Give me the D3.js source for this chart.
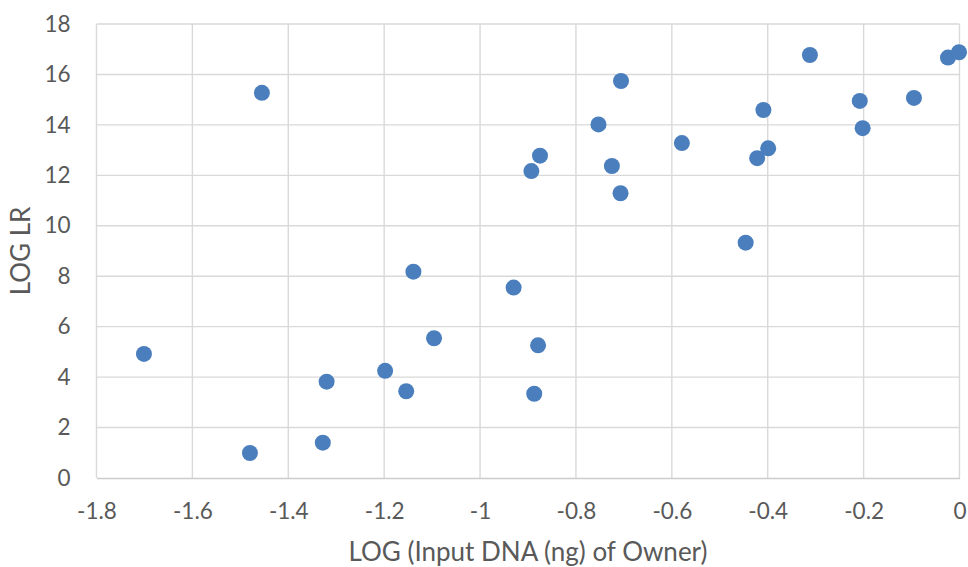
<!DOCTYPE html>
<html>
<head>
<meta charset="utf-8">
<script src="https://cdn.jsdelivr.net/npm/d3@7"></script>
<style>
  body { margin: 0; background: #fff; }
  text { font-family: Lato, "Open Sans", sans-serif; fill: #595959; }
</style>
</head>
<body>
<svg id="chart" width="968" height="567"></svg>
<script>
// LOG (input DNA) vs LOG LR
var logDNA = [-1.701, -1.480, -1.455, -1.328, -1.320, -1.198, -1.154, -1.139, -1.096,
              -0.930, -0.893, -0.887, -0.879, -0.875, -0.753, -0.725, -0.706, -0.707,
              -0.579, -0.446, -0.422, -0.409, -0.399, -0.312, -0.208, -0.202, -0.095,
              -0.024, -0.001];
var logLR = [4.92, 0.99, 15.27, 1.40, 3.82, 4.25, 3.44, 8.18, 5.54,
             7.55, 12.17, 3.34, 5.26, 12.78, 14.02, 12.37, 15.74, 11.29,
             13.28, 9.33, 12.68, 14.59, 13.07, 16.77, 14.95, 13.87, 15.07,
             16.67, 16.88];
var xTicks = [-1.8, -1.6, -1.4, -1.2, -1, -0.8, -0.6, -0.4, -0.2, 0];
var yTicks = [0, 2, 4, 6, 8, 10, 12, 14, 16, 18];

var svg = d3.select("svg#chart");
var plotL = 96.5, plotR = 959.5, plotT = 24, plotB = 478;

var x = d3.scaleLinear().domain([-1.8, 0]).range([plotL, plotR]);
var y = d3.scaleLinear().domain([0, 18]).range([plotB, plotT]);

// grid
svg.append("g")
    .selectAll("line")
    .data(xTicks)
    .enter()
    .append("line")
    .attr("x1", d => x(d)).attr("x2", d => x(d))
    .attr("y1", plotT).attr("y2", plotB)
    .attr("stroke", "#d9d9d9")
    .attr("stroke-width", 1.4);

svg.append("g")
    .selectAll("line")
    .data(yTicks.filter(d => d > 0))
    .enter()
    .append("line")
    .attr("x1", plotL).attr("x2", plotR)
    .attr("y1", d => y(d)).attr("y2", d => y(d))
    .attr("stroke", "#d9d9d9")
    .attr("stroke-width", 1.4);

// bottom axis
var xAxis = d3.axisBottom(x).tickValues(xTicks).tickSize(0).tickPadding(25)
                .tickFormat(d => String(d));
var gx = svg.append("g").attr("transform", "translate(0," + plotB + ")").call(xAxis);
gx.select(".domain").attr("stroke", "#cccccc").attr("stroke-width", 1.5);
gx.selectAll("text").attr("font-size", 22.5).attr("fill", "#595959")
    .style("font-family", "Lato, 'Open Sans', sans-serif");

// left axis (labels only)
var yAxis = d3.axisLeft(y).tickValues(yTicks).tickSize(0).tickPadding(26)
                .tickFormat(d => String(d));
var gy = svg.append("g").attr("transform", "translate(" + plotL + ",0)").call(yAxis);
gy.select(".domain").remove();
gy.selectAll("text").attr("font-size", 22.5).attr("fill", "#595959")
    .style("font-family", "Lato, 'Open Sans', sans-serif");

// points
svg.append("g")
    .selectAll("circle")
    .data(logDNA)
    .enter()
    .append("circle")
    .attr("cx", d => x(d))
    .attr("cy", (d, i) => y(logLR[i]))
    .attr("r", 8)
    .attr("fill", "#4a7ebd");

// titles
svg.append("text")
    .attr("x", (plotL + plotR) / 2)
    .attr("y", 561)
    .attr("text-anchor", "middle")
    .attr("font-size", 26)
    .text("LOG (Input DNA (ng) of Owner)");

svg.append("text")
    .attr("transform", "translate(30," + ((plotT + plotB) / 2) + ") rotate(-90)")
    .attr("text-anchor", "middle")
    .attr("font-size", 26)
    .text("LOG LR");
</script>
</body>
</html>
